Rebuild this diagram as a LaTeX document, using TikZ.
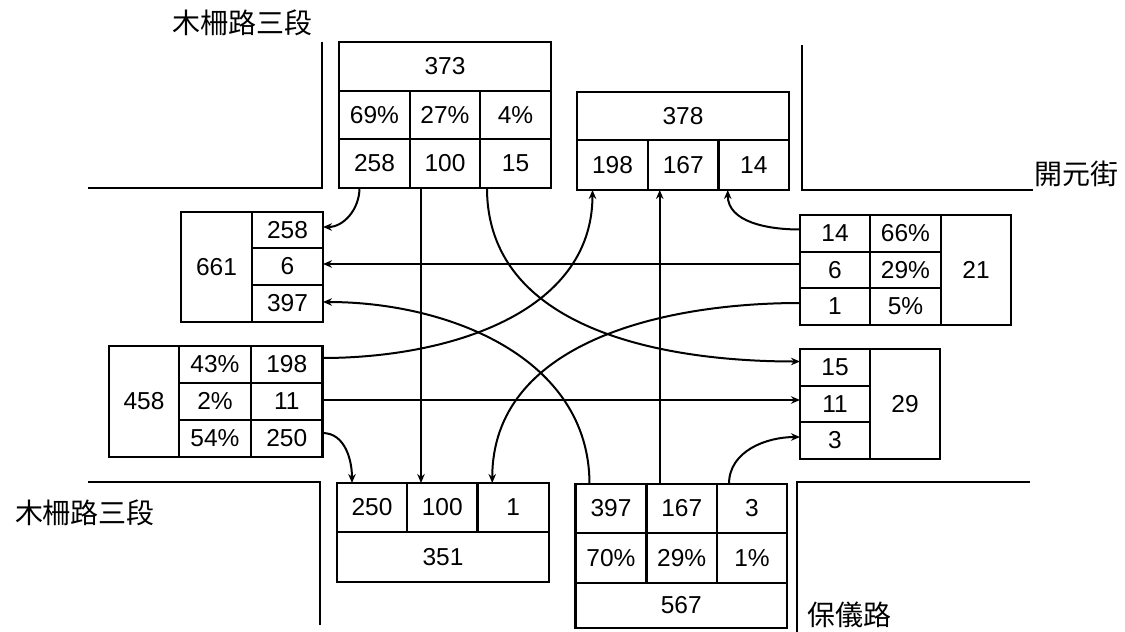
\documentclass[tikz,border=0pt]{standalone}
\usepackage{fontspec}
\setmainfont{Liberation Sans}
\newfontfamily\cjk{Noto Sans CJK TC}
\usetikzlibrary{arrows.meta}
\begin{document}
\begin{tikzpicture}[x=1pt,y=-1pt,
  cell/.style={draw, line width=2.3pt, inner sep=0pt, outer sep=0pt, anchor=north west,
    font=\fontsize{24.5}{28}\selectfont},
  road/.style={line width=2.2pt},
  flow/.style={line width=2pt, -{Stealth[length=9pt,width=7.5pt]}},
  street/.style={font=\cjk\fontsize{28}{32}\selectfont, inner sep=0pt}]
\useasboundingbox (0,0) rectangle (1125,632);

% roads
\draw[road] (322,42) -- (322,188) -- (88,188);
\draw[road] (802,45) -- (802,190) -- (1033,190);
\draw[road] (88,482) -- (320,482) -- (320,625);
\draw[road] (1030,482) -- (797,482) -- (797,632);

% street names
\node[street] (n1) at (242,23) {木柵路三段};
\node[street] (n2) at (1076,174) {開元街};
\node[street] (n3) at (85,513) {木柵路三段};
\node[street] (n4) at (849,615) {保儀路};

% top box
\node[cell, minimum width=212pt, minimum height=49pt] (T373) at (339,42) {373};
\node[cell, minimum width=71pt, minimum height=48pt] (Tp69) at (339,91) {69\%};
\node[cell, minimum width=70pt, minimum height=48pt] (Tp27) at (410,91) {27\%};
\node[cell, minimum width=71pt, minimum height=48pt] (Tp4) at (480,91) {4\%};
\node[cell, minimum width=71pt, minimum height=49pt] (T258) at (339,139) {258};
\node[cell, minimum width=70pt, minimum height=49pt] (T100) at (410,139) {100};
\node[cell, minimum width=71pt, minimum height=49pt] (T15) at (480,139) {15};

% north out box
\node[cell, minimum width=212pt, minimum height=48pt] (N378) at (577,92) {378};
\node[cell, minimum width=71pt, minimum height=50pt] (N198) at (577,140) {198};
\node[cell, minimum width=70.5pt, minimum height=50pt] (N167) at (648,140) {167};
\node[cell, minimum width=70.5pt, minimum height=50pt] (N14) at (718.5,140) {14};

% west out box
\node[cell, minimum width=71pt, minimum height=110pt] (W661) at (181,212) {661};
\node[cell, minimum width=71pt, minimum height=36pt] (W258) at (252,212) {258};
\node[cell, minimum width=71pt, minimum height=37pt] (W6) at (252,248) {6};
\node[cell, minimum width=71pt, minimum height=37pt] (W397) at (252,285) {397};

% east in box
\node[cell, minimum width=70pt, minimum height=37pt] (E14) at (800,215) {14};
\node[cell, minimum width=71pt, minimum height=37pt] (Ep66) at (870,215) {66\%};
\node[cell, minimum width=70pt, minimum height=36pt] (E6) at (800,252) {6};
\node[cell, minimum width=71pt, minimum height=36pt] (Ep29) at (870,252) {29\%};
\node[cell, minimum width=70pt, minimum height=37pt] (E1) at (800,288) {1};
\node[cell, minimum width=71pt, minimum height=37pt] (Ep5) at (870,288) {5\%};
\node[cell, minimum width=70pt, minimum height=110pt] (E21) at (941,215) {21};

% west in box
\node[cell, minimum width=70pt, minimum height=111pt] (L458) at (109,346) {458};
\node[cell, minimum width=72pt, minimum height=37pt] (Lp43) at (179,346) {43\%};
\node[cell, minimum width=71.5pt, minimum height=37pt] (L198) at (251,346) {198};
\node[cell, minimum width=72pt, minimum height=37pt] (Lp2) at (179,383) {2\%};
\node[cell, minimum width=71.5pt, minimum height=37pt] (L11) at (251,383) {11};
\node[cell, minimum width=72pt, minimum height=37pt] (Lp54) at (179,420) {54\%};
\node[cell, minimum width=71.5pt, minimum height=37pt] (L250) at (251,420) {250};

% east out box
\node[cell, minimum width=70pt, minimum height=37pt] (R15) at (800,349) {15};
\node[cell, minimum width=70pt, minimum height=36pt] (R11) at (800,386) {11};
\node[cell, minimum width=70pt, minimum height=37pt] (R3) at (800,422) {3};
\node[cell, minimum width=70pt, minimum height=110pt] (R29) at (870,349) {29};

% south out box
\node[cell, minimum width=70pt, minimum height=49pt] (B250) at (337,483) {250};
\node[cell, minimum width=70.5pt, minimum height=49pt] (B100) at (407,483) {100};
\node[cell, minimum width=71.5pt, minimum height=49pt] (B1) at (477.5,483) {1};
\node[cell, minimum width=212pt, minimum height=50pt] (B351) at (337,532) {351};

% south in box
\node[cell, minimum width=71pt, minimum height=49pt] (S397) at (575.5,484) {397};
\node[cell, minimum width=70.5pt, minimum height=49pt] (S167) at (646.5,484) {167};
\node[cell, minimum width=70pt, minimum height=49pt] (S3) at (717,484) {3};
\node[cell, minimum width=71pt, minimum height=50pt] (Sp70) at (575.5,533) {70\%};
\node[cell, minimum width=70.5pt, minimum height=50pt] (Sp29) at (646.5,533) {29\%};
\node[cell, minimum width=70pt, minimum height=50pt] (Sp1) at (717,533) {1\%};
\node[cell, minimum width=211.5pt, minimum height=45pt] (S567) at (575.5,583) {567};

% flows
\draw[flow] ([xshift=-15pt]T258.south) to[out=-90,in=0] ([yshift=3pt]W258.east);
\draw[flow] ([xshift=-24pt]T100.south) -- ([xshift=-24pt]T100.south |- B100.north);
\draw[flow] ([xshift=-28.5pt]T15.south) to[out=-90,in=180] ([yshift=6pt]R15.west);

\draw[flow] ([yshift=4pt]E14.west) to[out=180,in=-90] ([xshift=-26pt]N14.south);
\draw[flow] ([yshift=6pt]E6.west) -- ([yshift=6pt]E6.west -| W6.east);
\draw[flow] ([yshift=3.5pt]E1.west) to[out=180,in=90] ([xshift=-21pt]B1.north);

\draw[flow] ([yshift=6.5pt]L198.east) to[out=0,in=-90] ([xshift=-20pt]N198.south);
\draw[flow] ([yshift=1.5pt]L11.east) -- ([yshift=1.5pt]L11.east -| R11.west);
\draw[flow] ([yshift=5.5pt]L250.east) to[out=0,in=90] ([xshift=-20pt]B250.north);

\draw[flow] ([xshift=-21.5pt]S397.north) to[out=90,in=0] ([yshift=1.5pt]W397.east);
\draw[flow] ([xshift=-22pt]S167.north) -- ([xshift=-22pt]S167.north |- N167.south);
\draw[flow] ([xshift=-23pt]S3.north) to[out=90,in=180] ([yshift=3.5pt]R3.west);
\end{tikzpicture}
\end{document}
